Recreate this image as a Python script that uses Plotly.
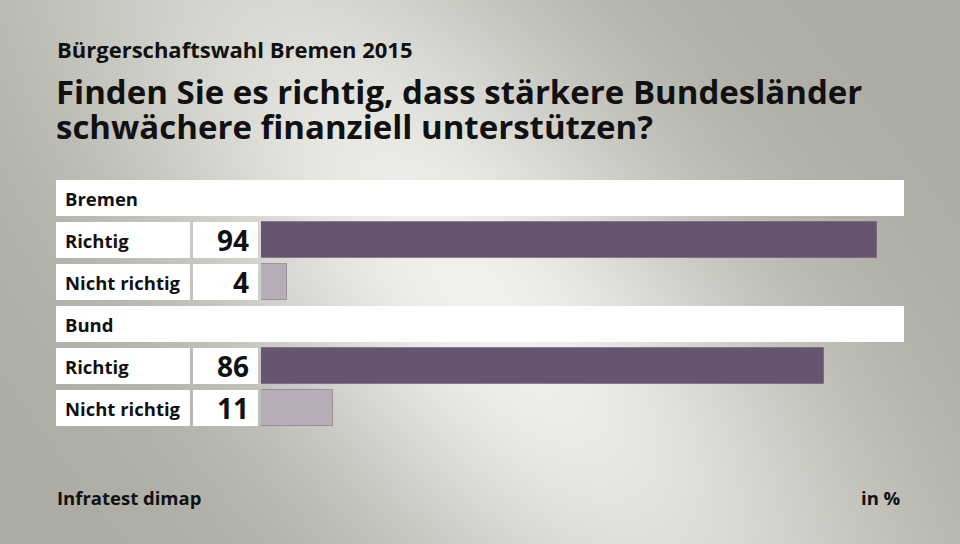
"""Bürgerschaftswahl Bremen 2015 – horizontal bar chart in Plotly."""

import numpy as np
import plotly.graph_objects as go

W, H = 960, 544
FONT = "Open Sans, Lato, sans-serif"
_DARK = "#675470"
_LIGHT = "#b6adb9"
_TEXT = "#111111"

groups = ["Bremen", "Bund"]
answers = ["Richtig", "Nicht richtig"]
values = {
    "Bremen": [94, 4],
    "Bund": [86, 11],
}


def px(x):
    return x / W


def py(y):
    return 1 - y / H


# background: soft diagonal light streak on grey
gx = np.linspace(0, W, 97)
gy = np.linspace(0, H, 55)
X, Y = np.meshgrid(gx, gy)
ang = np.deg2rad(50)
dx, dy = X - 480, Y - 300
par = dx * np.cos(ang) + dy * np.sin(ang)
perp = -dx * np.sin(ang) + dy * np.cos(ang)
glow = np.exp(-(perp / 220) ** 2 - (par / 560) ** 2)

fig = go.Figure()
fig.add_trace(
    go.Heatmap(
        x=gx, y=gy, z=glow, zsmooth="best", showscale=False, hoverinfo="skip",
        colorscale=[[0, "#acaca4"], [1, "#f0f0ec"]], zmin=0, zmax=1,
        xaxis="x", yaxis="y",
    )
)

# rows: header, answer, answer, header, answer, answer
rows = []
for g in groups:
    rows.append(("header", g, None))
    for a, v in zip(answers, values[g]):
        rows.append(("answer", a, v))

bar_y, bar_x, bar_c = [], [], []
for i, (kind, label, v) in enumerate(rows):
    if kind == "answer":
        bar_y.append(i)
        bar_x.append(v)
        bar_c.append(_DARK if label == "Richtig" else _LIGHT)

fig.add_trace(
    go.Bar(
        x=bar_x, y=bar_y, orientation="h", width=36 / 42,
        marker={"color": bar_c, "line": {"color": "rgba(80,60,90,0.35)", "width": 1}},
        hoverinfo="skip", xaxis="x2", yaxis="y2",
    )
)

shapes = []
annotations = []
for i, (kind, label, v) in enumerate(rows):
    y0, y1 = i - 18 / 42, i + 18 / 42
    if kind == "header":
        shapes.append(dict(type="rect", xref="paper", yref="y2", x0=px(56), x1=px(904),
                           y0=y0, y1=y1, fillcolor="white", line_width=0, layer="above"))
    else:
        shapes.append(dict(type="rect", xref="paper", yref="y2", x0=px(56), x1=px(190),
                           y0=y0, y1=y1, fillcolor="white", line_width=0, layer="above"))
        shapes.append(dict(type="rect", xref="paper", yref="y2", x0=px(193), x1=px(258),
                           y0=y0, y1=y1, fillcolor="white", line_width=0, layer="above"))
        annotations.append(dict(xref="paper", yref="y2", x=px(251), y=i, text=f"<b>{v}</b>",
                                xanchor="right", yanchor="middle", showarrow=False,
                                font={"size": 28, "color": _TEXT, "family": FONT}))
    annotations.append(dict(xref="paper", yref="y2", x=px(63), y=i, text=f"<b>{label}</b>",
                            xanchor="left", yanchor="middle", showarrow=False,
                            font={"size": 18.5, "color": _TEXT, "family": FONT}))

# title: base font sets the line pitch (27 * 1.3 ≈ 35 px), spans set the glyph size
title_lines = ["Finden Sie es richtig, dass stärkere Bundesländer",
               "schwächere finanziell unterstützen?"]
title_text = "<br>".join(f"<b><span style='font-size:33px'>{t}</span></b>" for t in title_lines)
annotations.append(dict(xref="paper", yref="paper", x=px(54), y=py(109),
                        text=title_text, xanchor="left", yanchor="middle", align="left",
                        showarrow=False,
                        font={"size": 27, "color": _TEXT, "family": FONT}))

annotations += [
    dict(xref="paper", yref="paper", x=px(55), y=py(49), text="<b>Bürgerschaftswahl Bremen 2015</b>",
         xanchor="left", yanchor="middle", showarrow=False,
         font={"size": 22, "color": _TEXT, "family": FONT}),
    dict(xref="paper", yref="paper", x=px(55), y=py(497), text="<b>Infratest dimap</b>",
         xanchor="left", yanchor="middle", showarrow=False,
         font={"size": 18.5, "color": _TEXT, "family": FONT}),
    dict(xref="paper", yref="paper", x=px(903), y=py(497), text="<b>in %</b>",
         xanchor="right", yanchor="middle", showarrow=False,
         font={"size": 18.5, "color": _TEXT, "family": FONT}),
]

fig.update_layout(
    width=W, height=H, margin={"l": 0, "r": 0, "t": 0, "b": 0},
    paper_bgcolor="#c8c8c2", plot_bgcolor="rgba(0,0,0,0)",
    showlegend=False, bargap=0,
    xaxis={"domain": [0, 1], "range": [0, W], "visible": False, "fixedrange": True},
    yaxis={"domain": [0, 1], "range": [H, 0], "visible": False, "fixedrange": True},
    xaxis2={"domain": [px(261), px(916)], "range": [0, 100], "visible": False,
            "anchor": "y2"},
    yaxis2={"domain": [py(429), py(177)], "range": [5.5, -0.5], "visible": False,
            "anchor": "x2"},
    shapes=shapes, annotations=annotations,
)

fig.write_html("out.html", config={"displayModeBar": False},
               post_script="document.body.style.margin='0';document.body.style.overflow='hidden';")
